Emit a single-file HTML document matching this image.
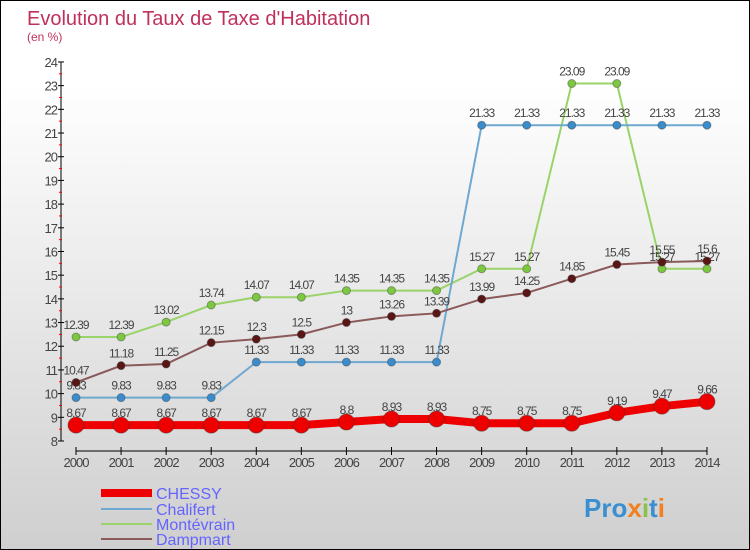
<!DOCTYPE html>
<html><head><meta charset="utf-8"><style>
body{margin:0}
#c{width:748px;height:548px;border:1px solid #000;background:linear-gradient(#fff,#fff 15%,#cfcfcf);position:relative;font-family:"Liberation Sans",sans-serif;overflow:hidden}
</style></head><body>
<div id="c">
<svg id="s" width="748" height="548" xmlns="http://www.w3.org/2000/svg">
<text x="26" y="24" font-size="20" fill="#c0305a">Evolution du Taux de Taxe d'Habitation</text>
<text x="26" y="40" font-size="12" fill="#c0305a">(en %)</text>
<g id="axes"></g><g id="series"></g>
<g>
<rect x="100" y="488" width="51" height="8" fill="#e00"/>
<text x="155" y="498" font-size="16" fill="#6464ff">CHESSY</text>
<rect x="100" y="507" width="51" height="2" fill="#6fa8d0"/>
<text x="155" y="514" font-size="16" fill="#6464ff">Chalifert</text>
<rect x="100" y="522" width="51" height="2" fill="#9ad36a"/>
<text x="155" y="529" font-size="16" fill="#6464ff">Montévrain</text>
<rect x="100" y="537" width="51" height="2" fill="#8a5a5a"/>
<text x="155" y="544" font-size="16" fill="#6464ff">Dampmart</text>
</g>
<text x="583" y="516" font-size="26" font-weight="bold" fill="#3a8fd0">Pro<tspan fill="#f08020">x</tspan><tspan fill="#8bc34a">i</tspan>t<tspan fill="#f08020">i</tspan></text>
</svg></div>
<script>
const years=[2000,2001,2002,2003,2004,2005,2006,2007,2008,2009,2010,2011,2012,2013,2014];
const chessy=[8.67,8.67,8.67,8.67,8.67,8.67,8.8,8.93,8.93,8.75,8.75,8.75,9.19,9.47,9.66];
const chalifert=[9.83,9.83,9.83,9.83,11.33,11.33,11.33,11.33,11.33,21.33,21.33,21.33,21.33,21.33,21.33];
const montevrain=[12.39,12.39,13.02,13.74,14.07,14.07,14.35,14.35,14.35,15.27,15.27,23.09,23.09,15.27,15.27];
const dampmart=[10.47,11.18,11.25,12.15,12.3,12.5,13,13.26,13.39,13.99,14.25,14.85,15.45,15.55,15.6];
const yTicks=[8,9,10,11,12,13,14,15,16,17,18,19,20,21,22,23,24];
const NS="http://www.w3.org/2000/svg";
const X=i=>75+i*45.07, Y=v=>440-(v-8)*23.69;
function mk(t,a,p){const e=document.createElementNS(NS,t);for(const k in a)e.setAttribute(k,a[k]);p.appendChild(e);return e;}
const ax=document.getElementById('axes'), sg=document.getElementById('series');
const yl=mk('line',{x1:60,y1:61,x2:60,y2:440,stroke:'#000'},ax);


const xl=mk('line',{x1:75,y1:450,x2:706,y2:450,stroke:'#000'},ax);


yTicks.forEach(v=>{
 mk('line',{x1:57,x2:63,y1:Y(v),y2:Y(v),stroke:'#000'},ax);
 if(v<24)mk('line',{x1:58,x2:61,y1:Y(v+0.5),y2:Y(v+0.5),stroke:'#f00'},ax);
 const t=mk('text',{x:56,y:Y(v)+5,'font-size':13,'text-anchor':'end',fill:'#444','letter-spacing':'-1'},ax);t.textContent=v;
 
 
});
years.forEach((y,i)=>{
 mk('line',{x1:X(i),x2:X(i),y1:446,y2:454,stroke:'#000'},ax);
 const t=mk('text',{x:X(i),y:466,'font-size':13,'text-anchor':'middle',fill:'#444','letter-spacing':'-1'},ax);t.textContent=y;
 
 
});
function series(d,col,w,r,name,fill){
 const g=mk('g',{},sg);
 
 
 mk('polyline',{points:d.map((v,i)=>X(i)+','+Y(v)).join(' '),fill:'none',stroke:col,'stroke-width':w},g);
 d.forEach((v,i)=>{
  const c=mk('circle',{cx:X(i),cy:Y(v),r:r,fill:fill,stroke:'#333','stroke-opacity':0.4},g);
  
  
  const t=mk('text',{x:X(i),y:Y(v)-8,'font-size':12,'text-anchor':'middle',fill:'#444','letter-spacing':'-1'},g);t.textContent=v;
  
  
 });
}
series(montevrain,'#9ad36a',2,4,'montevrain','#7cc840');
series(chalifert,'#6fa8d0',2,4,'chalifert','#3a8ccc');
series(dampmart,'#8a5a5a',2,4,'dampmart','#5a1515');
series(chessy,'#e00',8,8,'chessy','#e00');
</script>
</body></html>
